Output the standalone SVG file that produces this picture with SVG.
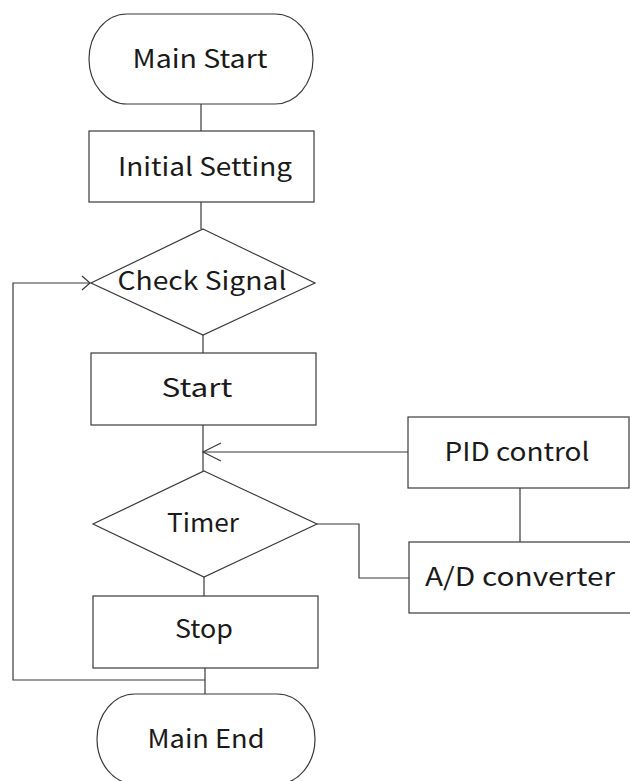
<svg xmlns="http://www.w3.org/2000/svg" width="630" height="781" viewBox="0 0 630 781">
<defs>
<style>
.s{fill:#fff;stroke:#3a3a3a;stroke-width:1.2}
.c{fill:none;stroke:#3a3a3a;stroke-width:1.2}
.t{font-family:"Noto Sans CJK JP","Noto Sans",sans-serif;font-size:25px;font-weight:400;fill:#1a1a1a;text-anchor:middle}
</style>
</defs>
<rect width="630" height="781" fill="#fff"/>
<g id="connectors">
<line class="c" x1="201" y1="104" x2="201" y2="131"/>
<line class="c" x1="201" y1="202" x2="201" y2="229"/>
<line class="c" x1="203" y1="335" x2="203" y2="353"/>
<line class="c" x1="203" y1="425" x2="203" y2="471"/>
<polyline class="c" points="408,452 203,452"/>
<polyline class="c" points="221,443 203,452 221,461"/>
<line class="c" x1="204" y1="577" x2="204" y2="596"/>
<line class="c" x1="205" y1="668" x2="205" y2="694"/>
<polyline class="c" points="205,680 13,680 13,283 90,283"/>
<polyline class="c" points="82,276 90,283 82,290"/>
<line class="c" x1="520" y1="488" x2="520" y2="542"/>
<polyline class="c" points="317,524 359,524 359,578 409,578"/>
</g>
<g id="main-start">
<rect class="s" x="89" y="14" width="224" height="90" rx="38" ry="45"/>
<text class="t" x="200" y="68" textLength="135" lengthAdjust="spacingAndGlyphs">Main Start</text>
</g>
<g id="initial-setting">
<rect class="s" x="89" y="131" width="225" height="71"/>
<text class="t" x="205" y="176" textLength="174" lengthAdjust="spacingAndGlyphs">Initial Setting</text>
</g>
<g id="check-signal">
<polygon class="s" points="203,229 315,283 203,335 91,283"/>
<text class="t" x="202" y="290" textLength="169" lengthAdjust="spacingAndGlyphs">Check Signal</text>
</g>
<g id="start">
<rect class="s" x="91" y="353" width="225" height="72"/>
<text class="t" x="197" y="397" textLength="71" lengthAdjust="spacingAndGlyphs">Start</text>
</g>
<g id="timer">
<polygon class="s" points="204,471 317,524 204,577 93,524"/>
<text class="t" x="203" y="532" textLength="72" lengthAdjust="spacingAndGlyphs">Timer</text>
</g>
<g id="stop">
<rect class="s" x="93" y="596" width="225" height="72"/>
<text class="t" x="204" y="638" textLength="58" lengthAdjust="spacingAndGlyphs">Stop</text>
</g>
<g id="main-end">
<rect class="s" x="97" y="694" width="218" height="90" rx="38" ry="45"/>
<text class="t" x="206" y="748" textLength="117" lengthAdjust="spacingAndGlyphs">Main End</text>
</g>
<g id="pid-control">
<rect class="s" x="408" y="417" width="221" height="71"/>
<text class="t" x="517" y="461" textLength="145" lengthAdjust="spacingAndGlyphs">PID control</text>
</g>
<g id="ad-converter">
<rect class="s" x="409" y="542" width="225" height="71"/>
<text class="t" x="520" y="586" textLength="190" lengthAdjust="spacingAndGlyphs">A/D converter</text>
</g>
</svg>
